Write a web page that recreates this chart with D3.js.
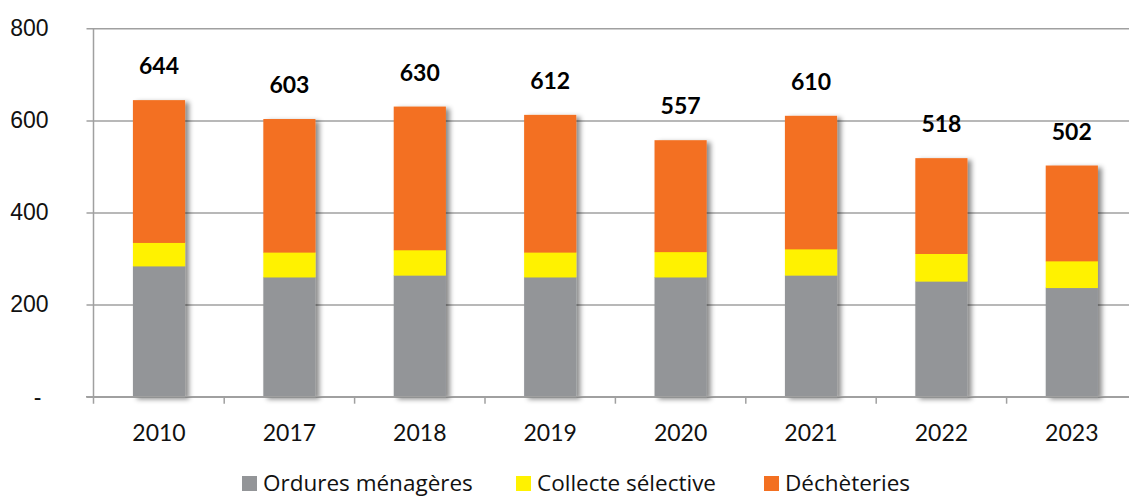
<!DOCTYPE html>
<html>
<head>
<meta charset="utf-8">
<script src="https://cdn.jsdelivr.net/npm/d3@7"></script>
<style>
  body { margin: 0; background: #fff; }
  svg { display: block; font-family: Lato, "Open Sans", sans-serif; }
</style>
</head>
<body>
<div id="chart"></div>
<script>
const years = ["2010", "2017", "2018", "2019", "2020", "2021", "2022", "2023"];
const ordures = [284, 260, 264, 260, 260, 264, 251, 237];
const collecte = [51, 54, 55, 54, 55, 57, 60, 58];
const decheteries = [309, 289, 311, 298, 242, 289, 207, 207];
const totals = [644, 603, 630, 612, 557, 610, 518, 502];
const yTicks = [0, 200, 400, 600, 800];
const seriesNames = ["Ordures ménagères", "Collecte sélective", "Déchèteries"];
const colors = ["#939598", "#FFF200", "#F37021"];

const W = 1129, H = 497;
const svg = d3.select("#chart").append("svg").attr("width", W).attr("height", H);

// ombre portée des barres
const defs = svg.append("defs");
defs.append("filter").attr("id", "shadow")
    .attr("x", "-20%").attr("y", "-20%").attr("width", "150%").attr("height", "150%")
  .append("feDropShadow")
    .attr("dx", 4).attr("dy", 2).attr("stdDeviation", 2.5)
    .attr("flood-color", "#000").attr("flood-opacity", 0.45);

const x = d3.scaleBand().domain(years).range([93.8, 1137]).paddingInner(0.6).paddingOuter(0.3);
const y = d3.scaleLinear().domain([0, 800]).range([396.7, 28.3]);

// grille + axe Y
const gy = svg.append("g").attr("transform", "translate(93.5,0)")
    .call(d3.axisLeft(y).tickValues(yTicks).tickSize(-(1137 - 93.5)).tickSizeOuter(0)
      .tickFormat(d => d === 0 ? "-" : d));
gy.select(".domain").attr("stroke", "#a0a0a0").attr("stroke-width", 1.5);
gy.selectAll(".tick line").attr("stroke", "#a0a0a0").attr("stroke-width", 1.5).attr("x1", -7);
gy.selectAll(".tick text").attr("x", -45).attr("text-anchor", "end")
    .attr("font-size", 23).attr("fill", "#111")
    .attr("dx", d => d === 0 ? -7 : 0);
gy.select(".domain").attr("d", `M0,${y(800)}V${y(0) + 7}`);

// barres empilées
const table = years.map((yr, i) => ({ year: yr, s0: ordures[i], s1: collecte[i], s2: decheteries[i] }));
const stack = d3.stack().keys(["s0", "s1", "s2"])(table);

const bars = svg.append("g").attr("filter", "url(#shadow)");
bars.selectAll("g").data(stack).join("g")
    .attr("fill", (d, i) => colors[i])
  .selectAll("rect").data(d => d).join("rect")
    .attr("x", d => x(d.data.year))
    .attr("width", x.bandwidth())
    .attr("y", d => y(d[1]))
    .attr("height", d => y(d[0]) - y(d[1]) + 0.5);

// axe X
const bottom = svg.append("g");
bottom.append("line").attr("x1", 86).attr("x2", 1137).attr("y1", y(0)).attr("y2", y(0))
    .attr("stroke", "#a0a0a0").attr("stroke-width", 1.5);
const step = x.step();
const boundaries = d3.range(1, years.length).map(i => x(years[i]) - (step - x.bandwidth()) / 2);
bottom.selectAll(".tk").data(boundaries).join("line")
    .attr("x1", d => d).attr("x2", d => d).attr("y1", y(0)).attr("y2", y(0) + 7)
    .attr("stroke", "#a0a0a0").attr("stroke-width", 1.5);
bottom.selectAll(".lbl").data(years).join("text")
    .attr("x", d => x(d) + x.bandwidth() / 2).attr("y", 441)
    .attr("text-anchor", "middle").attr("font-size", 23).attr("fill", "#111")
    .text(d => d);

// totaux
svg.append("g").selectAll("text").data(years).join("text")
    .attr("x", d => x(d) + x.bandwidth() / 2)
    .attr("y", (d, i) => y(totals[i]) - 26)
    .attr("text-anchor", "middle").attr("font-size", 23).attr("font-weight", "bold")
    .attr("fill", "#000")
    .text((d, i) => totals[i]);

// légende
const legendX = [242, 516, 764];
const legend = svg.append("g").attr("transform", "translate(0,491)");
const items = legend.selectAll("g").data(seriesNames).join("g")
    .attr("transform", (d, i) => `translate(${legendX[i]},0)`);
items.append("rect").attr("x", 0).attr("y", -15).attr("width", 15).attr("height", 15)
    .attr("fill", (d, i) => colors[i]);
items.append("text").attr("x", 21).attr("y", 0)
    .attr("font-family", "'Open Sans', sans-serif").attr("font-size", 22.5).attr("fill", "#111")
    .text(d => d);
</script>
</body>
</html>
